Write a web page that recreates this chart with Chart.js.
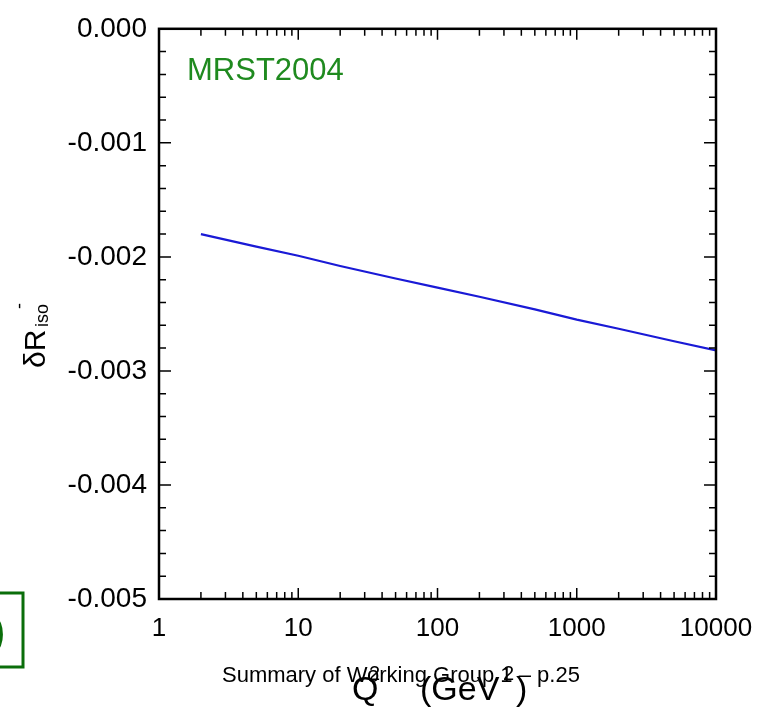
<!DOCTYPE html>
<html>
<head>
<meta charset="utf-8">
<script src="https://cdn.jsdelivr.net/npm/chart.js@4"></script>
<style>
  html, body { margin: 0; padding: 0; background: #fff; }
  canvas { display: block; }
</style>
</head>
<body>
<canvas id="chart" width="770" height="711"></canvas>
<script>
// datos
const qValues = [2, 5, 10, 20, 50, 100, 200, 500, 1000, 2000, 5000, 10000];
const deltaR = [-0.00180, -0.00191, -0.00199, -0.00208, -0.00219, -0.00227,
                -0.00235, -0.00246, -0.00255, -0.00263, -0.00274, -0.00282];
const xTicks = [1, 10, 100, 1000, 10000];
const yTicks = [0, -0.001, -0.002, -0.003, -0.004, -0.005];

const FONT = "'Liberation Sans', Arial, Helvetica, sans-serif";
const GREEN = '#1f8a1f';

// ejes con marcas hacia dentro, textos y recuadro
const framePlugin = {
    id: 'frame',
    afterDraw(chart) {
        const ctx = chart.ctx;
        const a = chart.chartArea;
        const xs = chart.scales.x, ys = chart.scales.y;
        ctx.save();
        ctx.strokeStyle = '#000';
        ctx.lineWidth = 2.5;
        ctx.strokeRect(a.left, a.top, a.right - a.left, a.bottom - a.top);

        ctx.lineWidth = 1.5;
        ctx.beginPath();
        // marcas eje x (abajo y arriba)
        for (let d = 0; d < xTicks.length - 1; d++) {
            for (let k = 1; k <= 10; k++) {
                const v = xTicks[d] * k;
                const px = xs.getPixelForValue(v);
                const len = (k === 1 || k === 10) ? 11 : 7;
                ctx.moveTo(px, a.bottom); ctx.lineTo(px, a.bottom - len);
                ctx.moveTo(px, a.top); ctx.lineTo(px, a.top + len);
            }
        }
        // marcas eje y (izquierda y derecha)
        for (let i = 0; i < yTicks.length - 1; i++) {
            const step = (yTicks[i + 1] - yTicks[i]) / 5;
            for (let j = 0; j <= 5; j++) {
                const py = ys.getPixelForValue(yTicks[i] + step * j);
                const len = (j === 0 || j === 5) ? 12 : 7;
                ctx.moveTo(a.left, py); ctx.lineTo(a.left + len, py);
                ctx.moveTo(a.right, py); ctx.lineTo(a.right - len, py);
            }
        }
        ctx.stroke();

        // etiqueta MRST2004
        ctx.fillStyle = GREEN;
        ctx.font = `31px ${FONT}`;
        ctx.textAlign = 'left';
        ctx.textBaseline = 'alphabetic';
        ctx.fillText('MRST2004', 187, 80);

        // titulo eje y: dR^-_iso
        ctx.fillStyle = '#000';
        ctx.save();
        ctx.translate(45, 368);
        ctx.rotate(-Math.PI / 2);
        ctx.font = `30px ${FONT}`;
        ctx.fillText('\u03B4R', 0, 0);
        ctx.font = `18px ${FONT}`;
        ctx.fillText('iso', 41, 3);
        ctx.fillText('-', 59, -20);
        ctx.restore();

        // titulo eje x: Q^2 (GeV^2)
        ctx.font = `34px ${FONT}`;
        ctx.fillText('Q', 352, 700);
        ctx.fillText('(GeV', 420, 700);
        ctx.fillText(')', 516, 700);
        ctx.font = `20px ${FONT}`;
        ctx.fillText('2', 369, 680);
        ctx.fillText('2', 503, 680);

        // pie de pagina
        ctx.font = `22px ${FONT}`;
        ctx.fillText('Summary of Working Group 1 \u2013 p.25', 222, 682);

        // recuadro verde cortado a la izquierda
        ctx.strokeStyle = '#0a6e0a';
        ctx.lineWidth = 3;
        ctx.strokeRect(-20, 593, 43, 74);
        ctx.fillStyle = '#0a6e0a';
        ctx.font = `44px ${FONT}`;
        ctx.fillText(')', -9, 646);
        ctx.restore();
    }
};

const ctx = document.getElementById('chart').getContext('2d');
new Chart(ctx, {
    type: 'line',
    data: {
        datasets: [{
            data: qValues.map((q, i) => ({ x: q, y: deltaR[i] })),
            borderColor: '#1a1ad6',
            borderWidth: 2.2,
            pointRadius: 0,
            tension: 0
        }]
    },
    options: {
        responsive: false,
        animation: false,
        layout: { padding: { left: 0, top: 27, right: 54, bottom: 0 } },
        plugins: { legend: { display: false }, tooltip: { enabled: false } },
        scales: {
            x: {
                type: 'logarithmic',
                min: 1,
                max: 10000,
                afterBuildTicks: s => { s.ticks = xTicks.map(v => ({ value: v })); },
                afterFit: s => { s.height = 112; },
                grid: { display: false, drawTicks: false },
                border: { display: false },
                ticks: {
                    autoSkip: false,
                    maxRotation: 0,
                    padding: 14,
                    color: '#000',
                    font: { family: FONT, size: 26 },
                    callback: v => String(v)
                }
            },
            y: {
                min: -0.005,
                max: 0,
                afterBuildTicks: s => { s.ticks = yTicks.map(v => ({ value: v })); },
                afterFit: s => { s.width = 159; },
                grid: { display: false, drawTicks: false },
                border: { display: false },
                ticks: {
                    padding: 12,
                    color: '#000',
                    font: { family: FONT, size: 28 },
                    callback: v => v.toFixed(3)
                }
            }
        }
    },
    plugins: [framePlugin]
});
</script>
</body>
</html>
